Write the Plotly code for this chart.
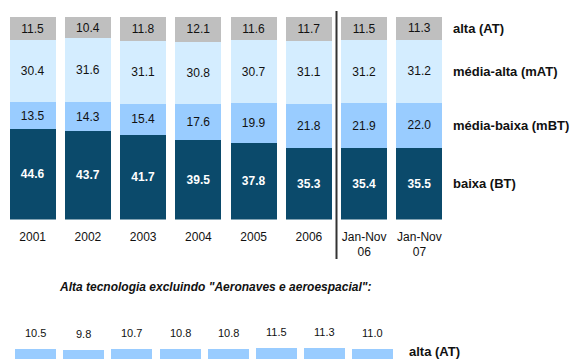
import plotly.graph_objects as go

periods = ["2001", "2002", "2003", "2004", "2005", "2006", "Jan-Nov<br>06", "Jan-Nov<br>07"]

# shares by technology level, %
baixa_bt = [44.6, 43.7, 41.7, 39.5, 37.8, 35.3, 35.4, 35.5]
media_baixa_mbt = [13.5, 14.3, 15.4, 17.6, 19.9, 21.8, 21.9, 22.0]
media_alta_mat = [30.4, 31.6, 31.1, 30.8, 30.7, 31.1, 31.2, 31.2]
alta_at = [11.5, 10.4, 11.8, 12.1, 11.6, 11.7, 11.5, 11.3]

# high tech excluding aircraft and aerospace
alta_at_excl = [10.5, 9.8, 10.7, 10.8, 10.8, 11.5, 11.3, 11.0]

series = [
    ("baixa (BT)", baixa_bt, "#0b4a6b", "white", True),
    ("média-baixa (mBT)", media_baixa_mbt, "#99ccff", "#111111", False),
    ("média-alta (mAT)", media_alta_mat, "#d4edff", "#111111", False),
    ("alta (AT)", alta_at, "#bfbfbf", "#111111", False),
]

FONT = "Liberation Sans, Arial, sans-serif"
W, H = 582, 359

fig = go.Figure()
for name, vals, color, txtcolor, bold in series:
    fig.add_trace(go.Bar(
        x=periods, y=vals, name=name,
        marker=dict(color=color, line=dict(width=0)),
        text=[f"<b>{v:.1f}</b>" if bold else f"{v:.1f}" for v in vals],
        textposition="inside", insidetextanchor="middle",
        textfont=dict(family=FONT, size=12, color=txtcolor),
        xaxis="x", yaxis="y",
    ))

# labels to the right of the last bar, at segment centres
cum = 0
last = len(periods) - 1
for name, vals, color, txtcolor, bold in series:
    mid = cum + vals[-1] / 2
    cum += vals[-1]
    fig.add_annotation(
        x=last, y=mid, xref="x", yref="y",
        text=f"<b>{name}</b>", showarrow=False,
        xanchor="left", xshift=32,
        font=dict(family=FONT, size=13, color="#111111"),
    )

# lower chart (cut off at the bottom of the picture)
fig.add_trace(go.Bar(
    x=periods, y=alta_at_excl, name="alta (AT) excl.",
    marker=dict(color="#99ccff", line=dict(width=0)),
    width=0.85, xaxis="x2", yaxis="y2",
))
for i, v in enumerate(alta_at_excl):
    fig.add_annotation(
        x=i, y=v, xref="x2", yref="y2",
        text=f"{v:.1f}", showarrow=False,
        yanchor="bottom", yshift=8,
        font=dict(family=FONT, size=11, color="#111111"),
    )
fig.add_annotation(
    x=last, y=alta_at_excl[-1], xref="x2", yref="y2",
    text="<b>alta (AT)</b>", showarrow=False,
    xanchor="left", yanchor="top", xshift=34, yshift=7,
    font=dict(family=FONT, size=13, color="#111111"),
)

fig.add_annotation(
    x=215 / W, y=(H - 287) / H, xref="paper", yref="paper",
    xanchor="center", yanchor="middle",
    text="<b><i>Alta tecnologia excluindo \"Aeronaves e aeroespacial\":</i></b>",
    showarrow=False, font=dict(family=FONT, size=12, color="#111111"),
)

fig.update_layout(
    width=W, height=H,
    margin=dict(l=0, r=0, t=0, b=0, autoexpand=False),
    barmode="stack", bargap=0.17,
    paper_bgcolor="white", plot_bgcolor="white",
    showlegend=False,
    font=dict(family=FONT, size=12, color="#111111"),
    xaxis=dict(type="category", range=[-0.5, 7.5], domain=[5 / W, 447 / W],
               tickangle=0, tickfont=dict(size=12, color="#111111"),
               automargin=False, showline=False, showgrid=False, ticks="",
               anchor="y", ticklabelstandoff=8),
    yaxis=dict(domain=[(H - 219.5) / H, (H - 17) / H], range=[0, 100],
               visible=False, anchor="x"),
    xaxis2=dict(type="category", range=[-0.5, 7.5], domain=[11.4 / W, 397 / W],
                visible=False, anchor="y2"),
    yaxis2=dict(domain=[0, 59 / H], range=[2.33, 51.5], visible=False,
                anchor="x2"),
)

fig.add_shape(type="line", xref="x", yref="paper",
              x0=5.5, x1=5.5, y0=(H - 259) / H, y1=(H - 11) / H,
              line=dict(color="#333333", width=2))

fig.write_html("out.html", config={"displayModeBar": False},
               post_script="document.body.style.margin = '0';")
